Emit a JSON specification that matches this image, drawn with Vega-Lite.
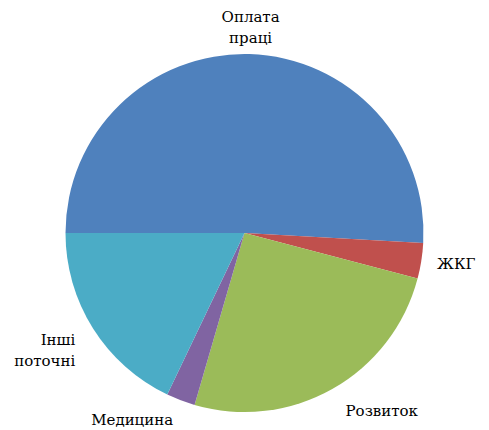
{
  "$schema": "https://vega.github.io/schema/vega-lite/v6.json",
  "width": 489,
  "height": 394,
  "autosize": "none",
  "padding": {"top": 36, "bottom": 0, "left": 0, "right": 0},
  "background": "white",
  "config": {"view": {"stroke": null}},
  "data": {"values": [
    {"name": "Оплата праці", "value": 50.9, "idx": 1},
    {"name": "ЖКГ", "value": 3.2, "idx": 2},
    {"name": "Розвиток", "value": 25.4, "idx": 3},
    {"name": "Медицина", "value": 2.6, "idx": 4},
    {"name": "Інші поточні", "value": 17.9, "idx": 5}
  ]},
  "encoding": {
    "theta": {"field": "value", "type": "quantitative", "stack": true, "scale": {"range": [4.71239, 10.99557]}},
    "order": {"field": "idx", "type": "quantitative"}
  },
  "layer": [
    {
      "mark": {"type": "arc", "outerRadius": 179},
      "encoding": {
        "color": {"field": "name", "type": "nominal", "legend": null,
          "scale": {"domain": ["Оплата праці", "ЖКГ", "Розвиток", "Медицина", "Інші поточні"],
                    "range": ["#4F81BD", "#C0504D", "#9BBB59", "#8064A2", "#4BACC6"]}}
      }
    },
    {
      "mark": {"type": "text", "radius": 216, "align": "center", "baseline": "middle", "font": "DejaVu Serif", "fontSize": 15, "lineBreak": " ", "lineHeight": 21, "color": "#000000"},
      "encoding": {"text": {"condition": {"test": "datum.name === 'Оплата праці'", "field": "name"}, "value": ""}}
    },
    {
      "mark": {"type": "text", "radius": 205, "align": "left", "baseline": "middle", "font": "DejaVu Serif", "fontSize": 15, "lineBreak": " ", "lineHeight": 21, "color": "#000000"},
      "encoding": {"text": {"condition": {"test": "datum.name === 'Розвиток'", "field": "name"}, "value": ""}}
    },
    {
      "mark": {"type": "text", "radius": 195, "align": "left", "baseline": "middle", "font": "DejaVu Serif", "fontSize": 15, "lineBreak": " ", "lineHeight": 21, "color": "#000000"},
      "encoding": {"text": {"condition": {"test": "datum.name === 'ЖКГ'", "field": "name"}, "value": ""}}
    },
    {
      "mark": {"type": "text", "radius": 200, "align": "right", "baseline": "middle", "font": "DejaVu Serif", "fontSize": 15, "lineBreak": " ", "lineHeight": 21, "color": "#000000"},
      "encoding": {"text": {"condition": {"test": "datum.name === 'Медицина' || datum.name === 'Інші поточні'", "field": "name"}, "value": ""}}
    }
  ]
}
